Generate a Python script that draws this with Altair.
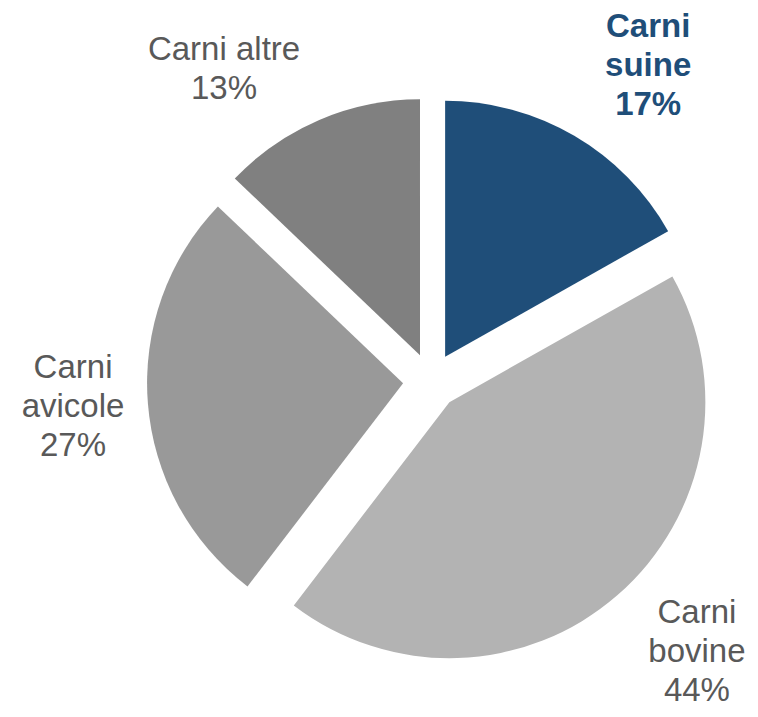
import altair as alt
import pandas as pd

# ---- data ----
categories = ["Carni suine", "Carni bovine", "Carni avicole", "Carni altre"]
values = [17, 44, 27, 13]
label_lines = ["Carni\nsuine", "Carni\nbovine", "Carni\navicole", "Carni altre"]

# ---- style / layout ----
slice_colors = ["#1F4E79", "#B3B3B3", "#999999", "#808080"]
label_colors = ["#1F4E79", "#595959", "#595959", "#595959"]
label_bold = [True, False, False, False]
label_angle_nudge_deg = [4.3, -3.47, 0.3, -10.47]
label_radius = [382.5, 379.7, 358.9, 373.6]

CX, CY = 423, 373      # pie centre inside the view (px)
R = 256                # pie radius
EXPLODE = 28           # explosion distance
LINE_H = 39

labels = [f"{l}\n{v}%" for l, v in zip(label_lines, values)]
df = pd.DataFrame({
    "cat": categories,
    "value": values,
    "order": list(range(len(categories))),
    "label": labels,
    "nlines": [s.count("\n") + 1 for s in labels],
    "lcolor": label_colors,
    "bold": label_bold,
    "nudge": label_angle_nudge_deg,
    "lr": label_radius,
})

base = alt.Chart(df).transform_joinaggregate(
    total="sum(value)"
).transform_window(
    cum="sum(value)", sort=[alt.SortField("order")], frame=[None, 0]
).transform_calculate(
    start="2*PI*(datum.cum - datum.value)/datum.total",
    end="2*PI*datum.cum/datum.total",
).transform_calculate(
    mid="(datum.start + datum.end)/2",
).transform_calculate(
    cx=f"{CX} + {EXPLODE}*sin(datum.mid)",
    cy=f"{CY} - {EXPLODE}*cos(datum.mid)",
    lx=f"{CX} + datum.lr*sin(datum.mid + datum.nudge*PI/180)",
    ly=f"{CY} - datum.lr*cos(datum.mid + datum.nudge*PI/180) - (datum.nlines-1)*{LINE_H}/2",
)

arcs = base.mark_arc(radius=R, strokeWidth=0).encode(
    x=alt.X("cx:Q", scale=None),
    y=alt.Y("cy:Q", scale=None),
    theta=alt.Theta("start:Q", scale=None, stack=None),
    theta2="end:Q",
    color=alt.Color("cat:N", scale=alt.Scale(domain=categories, range=slice_colors), legend=None),
)

text_common = dict(align="center", baseline="middle", font="Liberation Sans",
                   fontSize=33, lineHeight=LINE_H, lineBreak="\n")

labels_regular = base.transform_filter("!datum.bold").mark_text(**text_common).encode(
    x=alt.X("lx:Q", scale=None),
    y=alt.Y("ly:Q", scale=None),
    text="label:N",
    color=alt.Color("lcolor:N", scale=None),
)
labels_bold = base.transform_filter("datum.bold").mark_text(fontWeight="bold", **text_common).encode(
    x=alt.X("lx:Q", scale=None),
    y=alt.Y("ly:Q", scale=None),
    text="label:N",
    color=alt.Color("lcolor:N", scale=None),
)

chart = alt.layer(arcs, labels_regular, labels_bold).properties(
    width=742, height=701, padding=0, autosize=alt.AutoSizeParams(type="none")
).configure_view(stroke="transparent", strokeWidth=0)

chart.save("out.html", embed_options={"renderer": "svg", "actions": False})
